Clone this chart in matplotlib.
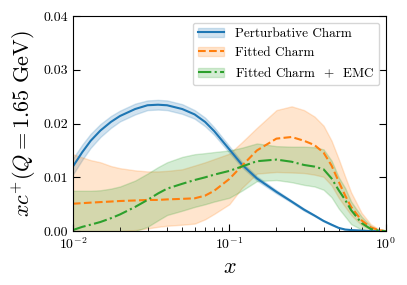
import numpy as np
import matplotlib
matplotlib.use('Agg')
import matplotlib.pyplot as plt
from matplotlib.patches import Patch
from matplotlib.lines import Line2D

plt.rcParams['font.family'] = 'cmr10'
plt.rcParams['mathtext.fontset'] = 'cm'
plt.rcParams['axes.unicode_minus'] = False
plt.rcParams['axes.formatter.use_mathtext'] = True

# значения
x = [0.01, 0.0115, 0.013, 0.015, 0.0175, 0.02, 0.025, 0.03, 0.035, 0.04,
     0.05, 0.06, 0.07, 0.08, 0.1, 0.12, 0.15, 0.2, 0.25, 0.3,
     0.35, 0.4, 0.45, 0.5, 0.55, 0.6, 0.7, 0.8, 0.9, 1.0]

pert = [0.0120, 0.0147, 0.0168, 0.0187, 0.0203, 0.0214, 0.0227, 0.0234, 0.0235, 0.0234,
        0.0227, 0.0217, 0.0203, 0.0186, 0.0152, 0.0124, 0.0098, 0.0073, 0.0055, 0.0040,
        0.0029, 0.0019, 0.0012, 0.0006, 0.0003, 0.0002, 0.0001, 0.0, 0.0, 0.0]
pert_err = [0.0015, 0.0014, 0.0013, 0.0012, 0.0011, 0.0010, 0.0010, 0.0009, 0.0009, 0.0009,
            0.0009, 0.0008, 0.0008, 0.0007, 0.0006, 0.0005, 0.0004, 0.0003, 0.0002, 0.0002,
            0.0001, 0.0001, 0.0001, 0.0, 0.0, 0.0, 0.0, 0.0, 0.0, 0.0]

fit = [0.0051, 0.0052, 0.0053, 0.0054, 0.0055, 0.0056, 0.0057, 0.0058, 0.0058, 0.0059,
       0.0060, 0.0061, 0.0066, 0.0075, 0.0097, 0.0121, 0.0150, 0.0172, 0.0175, 0.0168,
       0.0160, 0.0146, 0.0122, 0.0092, 0.0066, 0.0045, 0.0020, 0.0007, 0.0002, 0.0]
fit_hi = [0.0143, 0.0137, 0.0132, 0.0128, 0.0121, 0.0117, 0.0113, 0.0111, 0.0111, 0.0112,
          0.0115, 0.0122, 0.0128, 0.0134, 0.0144, 0.0165, 0.0192, 0.0225, 0.0232, 0.0225,
          0.0213, 0.0196, 0.0168, 0.0134, 0.0101, 0.0072, 0.0034, 0.0013, 0.0004, 0.0]
fit_lo = [0.0, 0.0, 0.0, 0.0, 0.0, 0.0, 0.0002, 0.0005, 0.0008, 0.0010,
          0.0012, 0.0014, 0.0022, 0.0032, 0.0050, 0.0080, 0.0107, 0.0110, 0.0109, 0.0108,
          0.0105, 0.0101, 0.0085, 0.0062, 0.0045, 0.0030, 0.0011, 0.0003, 0.0, 0.0]

emc = [0.0002, 0.0008, 0.0012, 0.0017, 0.0024, 0.0031, 0.0045, 0.0058, 0.0070, 0.0079,
       0.0088, 0.0095, 0.0100, 0.0105, 0.0112, 0.0120, 0.0130, 0.0133, 0.0129, 0.0123,
       0.0120, 0.0115, 0.0098, 0.0076, 0.0058, 0.0039, 0.0015, 0.0004, 0.0001, 0.0]
emc_hi = [0.0075, 0.0075, 0.0075, 0.0076, 0.0079, 0.0083, 0.0094, 0.0107, 0.0119, 0.0128,
          0.0138, 0.0143, 0.0145, 0.0147, 0.0150, 0.0155, 0.0163, 0.0158, 0.0157, 0.0157,
          0.0156, 0.0152, 0.0131, 0.0100, 0.0080, 0.0055, 0.0027, 0.0010, 0.0002, 0.0]
emc_lo = [0.0, 0.0, 0.0, 0.0, 0.0, 0.0, 0.0, 0.0008, 0.0020, 0.0030,
          0.0038, 0.0045, 0.0050, 0.0055, 0.0062, 0.0075, 0.0093, 0.0095, 0.0091, 0.0086,
          0.0083, 0.0077, 0.0063, 0.0042, 0.0027, 0.0013, 0.0003, 0.0, 0.0, 0.0]

x = np.array(x)
pert = np.array(pert)
pert_err = np.array(pert_err)

fig = plt.figure(figsize=(4.07, 2.85), dpi=100)
ax = fig.add_axes([0.179, 0.189, 0.769, 0.755])

c1, c2, c3 = 'tab:blue', 'tab:orange', 'tab:green'

ax.fill_between(x, pert - pert_err, pert + pert_err, color=c1, alpha=0.2)
ax.plot(x, pert, color=c1, lw=1.5)

ax.fill_between(x, fit_lo, fit_hi, color=c2, alpha=0.2)
ax.plot(x, fit, color=c2, lw=1.5, ls='--')

ax.fill_between(x, emc_lo, emc_hi, color=c3, alpha=0.2)
ax.plot(x, emc, color=c3, lw=1.5, ls='-.')

ax.set_xscale('log')
ax.set_xlim(1e-2, 1)
ax.set_ylim(0, 0.04)
ax.set_yticks([0, 0.01, 0.02, 0.03, 0.04])
ax.set_yticklabels(['0.00', '0.01', '0.02', '0.03', '0.04'])
ax.tick_params(which='both', direction='in', right=True, top=False, labelsize=10)
ax.tick_params(which='major', length=5)
ax.tick_params(which='minor', length=3)

ax.set_xlabel(r'$x$', fontsize=16)
ax.set_ylabel(r'$xc^{+}(Q = 1.65~\mathrm{GeV})$', fontsize=16)

handles = [
    (Patch(facecolor=c1, alpha=0.2, edgecolor=c1), Line2D([], [], color=c1, lw=1.5)),
    (Patch(facecolor=c2, alpha=0.2, edgecolor=c2), Line2D([], [], color=c2, lw=1.5, ls='--')),
    (Patch(facecolor=c3, alpha=0.2, edgecolor=c3), Line2D([], [], color=c3, lw=1.5, ls='-.')),
]
labels = ['Perturbative Charm', 'Fitted Charm', r'Fitted Charm $\,+\,$ EMC']
ax.legend(handles, labels, loc='upper right', fontsize=9.5, fancybox=True)

fig.savefig('out.png', dpi=100)
